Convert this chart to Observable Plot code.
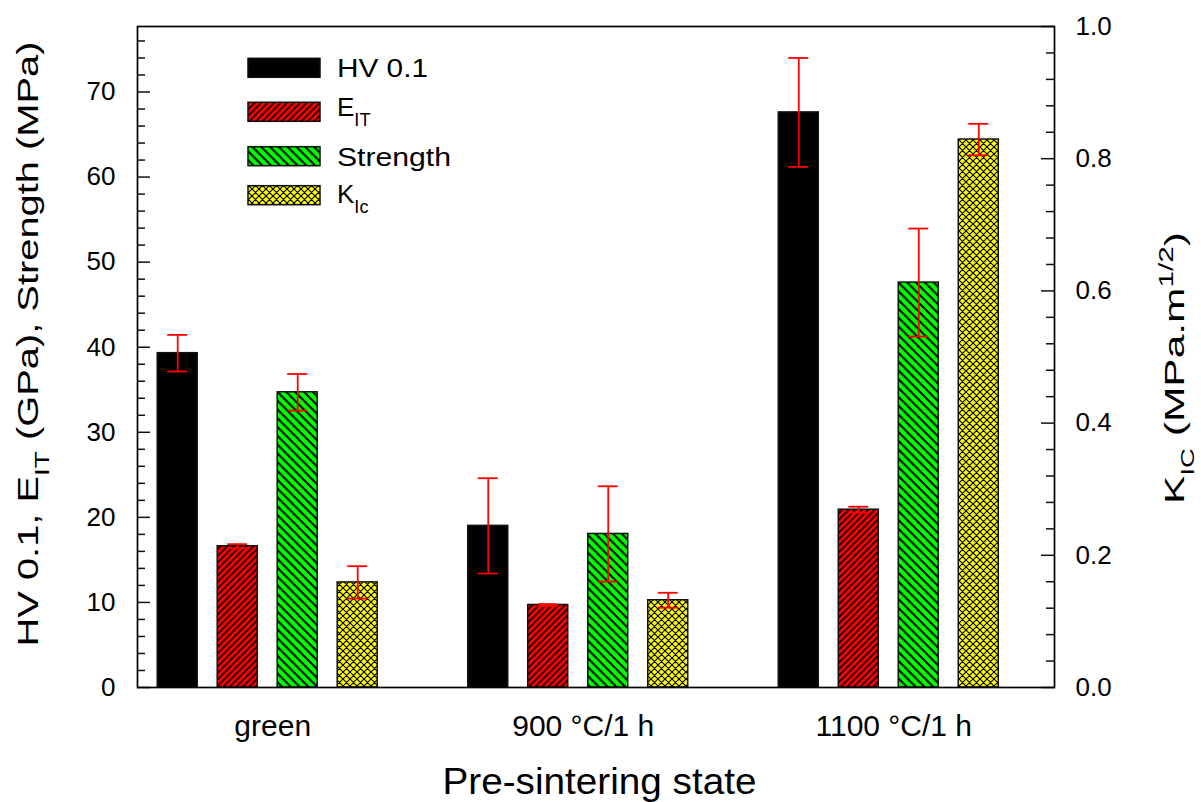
<!DOCTYPE html>
<html>
<head>
<meta charset="utf-8">
<script src="https://cdn.jsdelivr.net/npm/d3@7"></script>
<script src="https://cdn.jsdelivr.net/npm/@observablehq/plot@0.6"></script>
<style>
  body { margin: 0; background: #fff; }
  #chart svg { display: block; }
</style>
</head>
<body>
<div id="chart"></div>
<script>
// ---------------- data ----------------
const groups = ["green", "900 °C/1 h", "1100 °C/1 h"];
const seriesNames = ["HV 0.1", "E|IT", "Strength", "K|Ic"]; // "|" marks a subscript
const hv = [39.3, 19.0, 67.6];
const hvErr = [2.15, 5.6, 6.4];
const eit = [16.6, 9.7, 20.9];
const eitErr = [0.25, 0.1, 0.35];
const strength = [34.7, 18.05, 47.6];
const strengthErr = [2.15, 5.6, 6.35];
const kic = [0.159, 0.132, 0.829];      // right axis, MPa.m^1/2
const kicErr = [0.0245, 0.0113, 0.0238];
const leftTicks = [0, 10, 20, 30, 40, 50, 60, 70];
const rightTicks = [0, 0.2, 0.4, 0.6, 0.8, 1.0];
const xTitle = "Pre-sintering state";

// ---------------- layout ----------------
const W = 1201, H = 802;
const mL = 137, mR = 147, mT = 26, mB = 115;
const plotW = W - mL - mR;
const leftMax = 77.7, rightMax = 1.0;
const k = leftMax / rightMax;              // right-axis value -> left-axis units
const xDomain = [0.5807, 3.5337];
const pxPerUnit = plotW / (xDomain[1] - xDomain[0]);
const barStep = 60 / pxPerUnit, barW = 40 / pxPerUnit, capW = 20 / pxPerUnit;

const fills = ["#000000", "url(#pRed)", "url(#pGreen)", "url(#pYellow)"];
const values = [hv, eit, strength, kic.map(v => v * k)];
const errors = [hvErr, eitErr, strengthErr, kicErr.map(v => v * k)];

const rows = [];
groups.forEach((g, gi) => {
  seriesNames.forEach((s, si) => {
    rows.push({g, s, si, pos: gi + 1 + (si - 1.5) * barStep, v: values[si][gi], e: errors[si][gi]});
  });
});

const leftMinor = d3.range(0, leftMax, 2).filter(v => v % 10 !== 0);
const rightMinor = d3.range(0, 25).map(i => i * 0.04).filter(v => Math.abs(v * 5 - Math.round(v * 5)) > 1e-6);

const font = "'Liberation Sans', Arial, Helvetica, sans-serif";

const barMarks = seriesNames.map((s, si) =>
  Plot.rect(rows.filter(d => d.si === si), {
    x1: d => d.pos - barW / 2, x2: d => d.pos + barW / 2,
    y1: 0, y2: d => d.v,
    fill: fills[si], stroke: "#111", strokeWidth: 1.5
  })
);

const chart = Plot.plot({
  width: W, height: H,
  marginLeft: mL, marginRight: mR, marginTop: mT, marginBottom: mB,
  x: {type: "linear", domain: xDomain, axis: null},
  y: {domain: [0, leftMax], axis: null},
  style: {fontFamily: font, background: "#fff", color: "#000"},
  marks: [
    ...barMarks,
    // error bars
    Plot.ruleX(rows, {x: "pos", y1: d => d.v - d.e, y2: d => d.v + d.e, stroke: "#ff0000", strokeWidth: 1.8}),
    Plot.ruleY(rows, {y: d => d.v + d.e, x1: d => d.pos - capW / 2, x2: d => d.pos + capW / 2, stroke: "#ff0000", strokeWidth: 1.8}),
    Plot.ruleY(rows, {y: d => d.v - d.e, x1: d => d.pos - capW / 2, x2: d => d.pos + capW / 2, stroke: "#ff0000", strokeWidth: 1.8}),
    // left axis ticks (inward)
    Plot.tickY(leftTicks, {y: d => d, insetRight: plotW - 13, stroke: "#111", strokeWidth: 1.5}),
    Plot.tickY(leftMinor, {y: d => d, insetRight: plotW - 8, stroke: "#111", strokeWidth: 1.5}),
    // right axis ticks (inward)
    Plot.tickY(rightTicks, {y: d => d * k, insetLeft: plotW - 13, stroke: "#111", strokeWidth: 1.5}),
    Plot.tickY(rightMinor, {y: d => d * k, insetLeft: plotW - 8, stroke: "#111", strokeWidth: 1.5}),
    Plot.frame({stroke: "#000", strokeWidth: 1.7}),
    // tick labels
    Plot.text(leftTicks, {y: d => d, text: d => String(d), frameAnchor: "left", textAnchor: "end", dx: -22, fontSize: 26, fill: "#000"}),
    Plot.text(rightTicks, {y: d => d * k, text: d => d.toFixed(1), frameAnchor: "right", textAnchor: "start", dx: 21, fontSize: 26, fill: "#000"}),
    Plot.text(groups, {x: (d, i) => i + 1, text: d => d, frameAnchor: "bottom", lineAnchor: "middle", dy: 39, dx: 5, fontSize: 30, fill: "#000"})
  ]
});

document.getElementById("chart").appendChild(chart);

// ---------------- patterns, titles, legend ----------------
const svg = d3.select(chart);
const defs = svg.insert("defs", ":first-child");
function hatch(id, color, p, dirs, sw) {
  const pat = defs.append("pattern").attr("id", id)
    .attr("patternUnits", "userSpaceOnUse").attr("width", p).attr("height", p);
  pat.append("rect").attr("width", p).attr("height", p).attr("fill", color);
  let d = "";
  if (dirs.includes("/")) d += `M${-p/2},${p/2}L${p/2},${-p/2}M0,${p}L${p},0M${p/2},${1.5*p}L${1.5*p},${p/2}`;
  if (dirs.includes("\\")) d += `M${-p/2},${p/2}L${p/2},${1.5*p}M0,0L${p},${p}M${p/2},${-p/2}L${1.5*p},${p/2}`;
  pat.append("path").attr("d", d).attr("stroke", "#000").attr("stroke-width", sw).attr("fill", "none");
}
hatch("pRed", "#ff0000", 6.5, "/", 1.5);
hatch("pGreen", "#00ff00", 8.8, "\\", 2.0);
hatch("pYellow", "#ffff00", 7, "/\\", 1.2);

function richText(sel, label) {
  const [main, sub] = label.split("|");
  sel.append("tspan").text(main);
  if (sub) sel.append("tspan").attr("baseline-shift", "sub").attr("font-size", "70%").text(sub);
}

const titles = svg.append("g").attr("font-family", font).attr("fill", "#000");
// x title
titles.append("text")
  .attr("x", mL + plotW / 2 + 4).attr("y", 794)
  .attr("text-anchor", "middle").attr("font-size", 36)
  .attr("textLength", 314).attr("lengthAdjust", "spacingAndGlyphs")
  .text(xTitle);
// left title
const lt = titles.append("text")
  .attr("transform", "translate(38,344) rotate(-90)")
  .attr("text-anchor", "middle").attr("font-size", 29)
  .attr("textLength", 605).attr("lengthAdjust", "spacingAndGlyphs");
lt.append("tspan").text("HV 0.1, E");
lt.append("tspan").attr("baseline-shift", "sub").attr("font-size", "70%").text("IT");
lt.append("tspan").text(" (GPa), Strength (MPa)");
// right title
const rt = titles.append("text")
  .attr("transform", "translate(1184,368) rotate(-90)")
  .attr("text-anchor", "middle").attr("font-size", 28)
  .attr("textLength", 272).attr("lengthAdjust", "spacingAndGlyphs");
rt.append("tspan").text("K");
rt.append("tspan").attr("baseline-shift", "sub").attr("font-size", "65%").text("IC");
rt.append("tspan").text(" (MPa.m");
rt.append("tspan").attr("baseline-shift", "super").attr("font-size", "70%").text("1/2");
rt.append("tspan").text(")");

// legend
const legend = svg.append("g").attr("font-family", font).attr("fill", "#000").attr("text-anchor", "start");
const swTop = [58.3, 102.3, 146.7, 185.7];
const txtBase = [77.3, 116, 166, 202.7];
const txtLen = [91, null, 114, null];
seriesNames.forEach((s, si) => {
  legend.append("rect").attr("x", 248).attr("y", swTop[si]).attr("width", 72).attr("height", 19)
    .attr("fill", fills[si]).attr("stroke", "#111").attr("stroke-width", 1.5);
  const t = legend.append("text").attr("x", 337).attr("y", txtBase[si]).attr("font-size", 26)
    .attr("text-anchor", "start");
  if (txtLen[si]) t.attr("textLength", txtLen[si]).attr("lengthAdjust", "spacingAndGlyphs");
  richText(t, s);
});
</script>
</body>
</html>
